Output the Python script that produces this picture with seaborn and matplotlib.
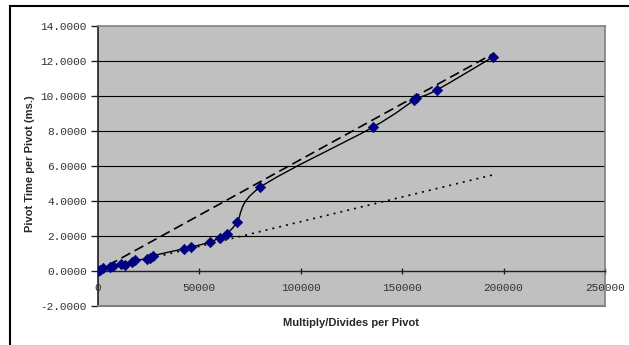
import numpy as np
import matplotlib
matplotlib.use("Agg")
import matplotlib.pyplot as plt
import seaborn as sns
import pandas as pd
from matplotlib.path import Path
from matplotlib.patches import PathPatch, Rectangle
from matplotlib.ticker import FormatStrFormatter

# Measured pivot timings
mults = [0, 1200, 2300, 5900, 7200, 11200, 13300, 16600, 18200, 24000, 25600,
         27000, 42600, 45900, 55200, 60000, 63400, 68500, 79900, 135400,
         155800, 156800, 167000, 194600]
times = [0.02, 0.08, 0.20, 0.22, 0.29, 0.42, 0.36, 0.52, 0.62, 0.68, 0.77,
         0.87, 1.28, 1.37, 1.65, 1.90, 2.11, 2.78, 4.78, 8.21,
         9.76, 9.86, 10.34, 12.22]

# Reference linear rates
upper_x = [5100, 194600]
upper_y = [0.33, 12.40]
lower_x = [25600, 195000]
lower_y = [0.72, 5.50]

y_ticks = [-2, 0, 2, 4, 6, 8, 10, 12, 14]
x_ticks = [0, 50000, 100000, 150000, 200000, 250000]

sns.set_theme(style="white")
plt.rcParams['font.family'] = ['Liberation Mono', 'DejaVu Sans']

W, H = 629, 345
fig = plt.figure(figsize=(W / 100, H / 100), dpi=100)
ax = fig.add_axes([98 / W, 39 / H, 507 / W, 280 / H])
ax.set_facecolor('#c0c0c0')
ax.set_xlim(0, 250000)
ax.set_ylim(-2, 14)
ax.set_yticks(y_ticks)
ax.set_xticks(x_ticks)
ax.yaxis.set_major_formatter(FormatStrFormatter('%.4f'))
ax.set_xticklabels([str(v) for v in x_ticks])

for y in y_ticks[2:-1]:
    ax.axhline(y, color='black', lw=0.8, zorder=1)

for side in ('top', 'right'):
    ax.spines[side].set_color('#808080')
    ax.spines[side].set_linewidth(1.2)
ax.spines['left'].set_color('#202020')
ax.spines['left'].set_linewidth(1.2)
ax.spines['bottom'].set_position(('data', 0))
ax.spines['bottom'].set_color('#202020')
ax.spines['bottom'].set_linewidth(1.0)
ax.plot([0, 1], [0, 0], transform=ax.transAxes, color='#808080', lw=1.5,
        clip_on=False, zorder=3)

ax.tick_params(axis='y', direction='out', length=5, width=1, color='#202020',
               pad=3, labelsize=8, labelcolor='#333333', left=True)
ax.tick_params(axis='x', direction='inout', length=5, width=1, color='#202020',
               pad=6, labelsize=8, labelcolor='#333333', bottom=True)

# Smoothed curve through the measurements (cubic Bezier segments)
pts = np.column_stack([mults, times]).astype(float)
n = len(pts)
verts = [tuple(pts[0])]
codes = [Path.MOVETO]
for i in range(n - 1):
    p0 = pts[max(i - 1, 0)]
    p1 = pts[i]
    p2 = pts[i + 1]
    p3 = pts[min(i + 2, n - 1)]
    c1 = p1 + (p2 - p0) / 6.0
    c2 = p2 - (p3 - p1) / 6.0
    verts += [tuple(c1), tuple(c2), tuple(p2)]
    codes += [Path.CURVE4] * 3
ax.add_patch(PathPatch(Path(verts, codes), fill=False, edgecolor='black',
                       lw=1.0, zorder=4))

lines = pd.DataFrame({'x': upper_x + lower_x, 'y': upper_y + lower_y,
                      'rate': ['upper'] * 2 + ['lower'] * 2})
sns.lineplot(data=lines[lines.rate == 'upper'], x='x', y='y', ax=ax,
             color='black', lw=1.2, estimator=None,
             linestyle=(0, (6, 3)), zorder=3)
sns.lineplot(data=lines[lines.rate == 'lower'], x='x', y='y', ax=ax,
             color='black', lw=1.2, estimator=None,
             linestyle=(0, (1.2, 3)), zorder=3)

pts_df = pd.DataFrame({'x': mults, 'y': times})
sns.scatterplot(data=pts_df, x='x', y='y', ax=ax, marker='D', s=28,
                color='#000080', edgecolor='#000080', linewidth=0.5, zorder=5)

ax.set_xlabel('')
ax.set_ylabel('')

fig.text(351 / W, 1 - 323 / H, 'Multiply/Divides per Pivot', ha='center',
         va='center', fontsize=8, fontweight='bold', family='Liberation Sans')
fig.text(30 / W, 1 - 164 / H, 'Pivot Time per Pivot (ms.)', ha='center',
         va='center', rotation=90, fontsize=8, fontweight='bold',
         family='Liberation Sans')

fig.patches.append(Rectangle((10 / W, -0.5), 2, 0.5 + 1 - 5.5 / H, fill=False,
                             edgecolor='black', lw=1.5,
                             transform=fig.transFigure, figure=fig))

fig.savefig('out.png', dpi=100, facecolor='white')
